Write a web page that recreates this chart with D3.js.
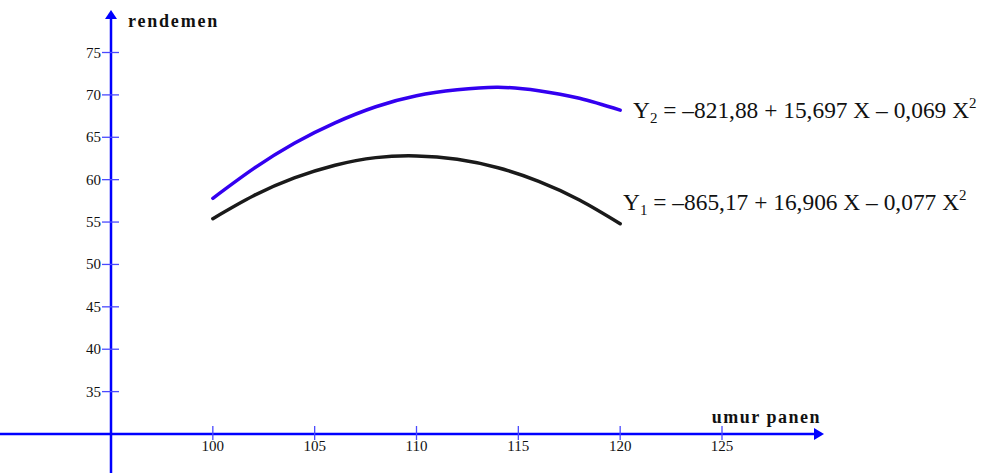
<!DOCTYPE html>
<html><head><meta charset="utf-8">
<script src="https://cdn.jsdelivr.net/npm/d3@7"></script>
<style>body{margin:0;background:#fff}svg{display:block}</style>
</head><body>
<script>
const xTicks = [100, 105, 110, 115, 120, 125];
const yTicks = [35, 40, 45, 50, 55, 60, 65, 70, 75];
const umur = [100, 102, 104, 106, 108, 110, 112, 114, 116, 118, 120];
const y1Vals = [55.4, 58.1, 60.2, 61.7, 62.6, 62.8, 62.4, 61.4, 59.8, 57.6, 54.8];
const y2Vals = [57.8, 61.3, 64.3, 66.7, 68.6, 69.9, 70.6, 70.9, 70.5, 69.6, 68.2];

const W = 985, H = 473;
const svg = d3.select("body").append("svg").attr("width", W).attr("height", H);
const x = d3.scaleLinear().domain([95, 125]).range([111, 722]);
const y = d3.scaleLinear().domain([30, 75]).range([434, 52.5]);
const axisCol = "#0000ff", tickCol = "#4a4aff";
const font = "Liberation Serif, Times New Roman, serif";

// axes
const x0 = x(95), y0 = y(30);
svg.append("line").attr("x1", 0).attr("x2", 816).attr("y1", y0).attr("y2", y0)
  .attr("stroke", axisCol).attr("stroke-width", 2.5);
svg.append("path").attr("d", `M824,${y0} L814,${y0-6} L814,${y0+6} Z`).attr("fill", axisCol);
svg.append("line").attr("x1", x0).attr("x2", x0).attr("y1", 18).attr("y2", H)
  .attr("stroke", axisCol).attr("stroke-width", 2.5);
svg.append("path").attr("d", `M${x0},10 L${x0-6},19 L${x0+6},19 Z`).attr("fill", axisCol);

// y ticks
yTicks.forEach(v => {
  svg.append("line").attr("x1", x0 - 9).attr("x2", x0 + 8).attr("y1", y(v)).attr("y2", y(v))
    .attr("stroke", tickCol).attr("stroke-width", 1.3);
  svg.append("text").attr("x", x0 - 10).attr("y", y(v) + 5).attr("text-anchor", "end")
    .attr("font-family", font).attr("font-size", 15).attr("fill", "#111").text(v);
});
// x ticks
xTicks.forEach(v => {
  svg.append("line").attr("x1", x(v)).attr("x2", x(v)).attr("y1", y0 - 8).attr("y2", y0 + 6)
    .attr("stroke", tickCol).attr("stroke-width", 1.3);
  svg.append("text").attr("x", x(v)).attr("y", y0 + 17).attr("text-anchor", "middle")
    .attr("font-family", font).attr("font-size", 15).attr("fill", "#111").text(v);
});

// axis titles
svg.append("text").attr("x", 128).attr("y", 27).attr("font-family", font).attr("font-weight", "bold")
  .attr("font-size", 18).attr("letter-spacing", 1.8).attr("fill", "#111").text("rendemen");
svg.append("text").attr("x", 821).attr("y", 423).attr("text-anchor", "end").attr("font-family", font)
  .attr("font-weight", "bold").attr("font-size", 18).attr("letter-spacing", 1.5).attr("fill", "#111").text("umur panen");

// curves
const line = d3.line().x((d, i) => x(umur[i])).y(d => y(d)).curve(d3.curveNatural);
svg.append("path").attr("d", line(y2Vals)).attr("fill", "none").attr("stroke", "#3300f0")
  .attr("stroke-width", 3.5).attr("stroke-linecap", "round");
svg.append("path").attr("d", line(y1Vals)).attr("fill", "none").attr("stroke", "#1a1a1a")
  .attr("stroke-width", 3.5).attr("stroke-linecap", "round");

// equations
function eq(xp, yp, sub, a, b, c) {
  const t = svg.append("text").attr("x", xp).attr("y", yp).attr("font-family", font)
    .attr("font-size", 23.4).attr("fill", "#111");
  t.append("tspan").text("Y");
  t.append("tspan").attr("font-size", 15).attr("dy", 5).text(sub);
  t.append("tspan").attr("dy", -5).text(` = \u2013${a} + ${b} X \u2013 ${c} X`);
  t.append("tspan").attr("font-size", 15).attr("dy", -10).text("2");
}
eq(633, 118, "2", "821,88", "15,697", "0,069");
eq(623, 210, "1", "865,17", "16,906", "0,077");
</script>
</body></html>
